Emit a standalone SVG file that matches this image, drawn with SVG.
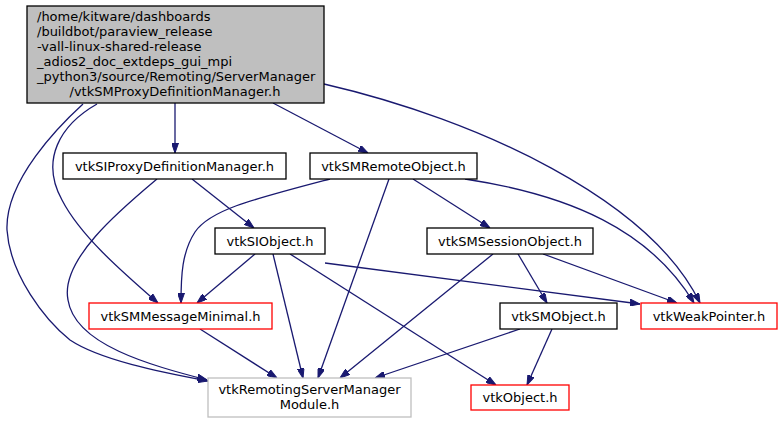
<svg xmlns="http://www.w3.org/2000/svg" width="782" height="424" viewBox="0 0 782 424">
<style>
text{font-family:"DejaVu Sans",sans-serif;font-size:13px;fill:#000;text-anchor:middle}
.l{text-anchor:start}
.n{fill:#fff;stroke:#000;stroke-width:1.3}
.r{fill:#fff;stroke:#ff0000;stroke-width:1.3}
.g{fill:#fff;stroke:#bfbfbf;stroke-width:1.3}
.e path{fill:none;stroke:#191970;stroke-width:1.3;marker-end:url(#a)}
</style>
<defs>
<marker id="a" markerUnits="userSpaceOnUse" markerWidth="10" markerHeight="7" refX="10" refY="3.5" orient="auto" viewBox="0 0 10 7">
<path d="M0,0 L10,3.5 L0,7 Z" fill="#191970" stroke="#191970" stroke-width="1"/>
</marker>
</defs>
<rect width="782" height="424" fill="#fff"/>
<g class="e" id="edges">
<path d="M175,103 L175,153"/>
<path d="M273,103 L368,153"/>
<path d="M324,84 C480,120 650,200 700,303"/>
<path d="M97,104 C60,125 40,160 62,200 C80,235 120,270 158,303"/>
<path d="M83,104 C60,125 5,180 7,230 C10,275 45,320 70,340 C100,360 160,372 208,381"/>
<path d="M157,179 C120,210 60,260 68,300 C75,345 150,365 207,380"/>
<path d="M192,179 L254,228"/>
<path d="M330,179 C250,200 210,210 195,232 C182,252 181,275 181,303"/>
<path d="M389,179 L318,378"/>
<path d="M413,179 L490,228"/>
<path d="M465,179 C570,195 650,230 694,303"/>
<path d="M255,254 L197,303"/>
<path d="M273,254 L303,378"/>
<path d="M290,254 L496,385"/>
<path d="M325,263 L640,304"/>
<path d="M493,254 L340,378"/>
<path d="M518,254 L547,303"/>
<path d="M543,254 L677,303"/>
<path d="M200,329 L277,378"/>
<path d="M520,329 L375,378"/>
<path d="M552,329 L527,385"/>
</g>
<g id="root">
<rect x="27" y="6" width="297" height="97" fill="#bfbfbf" stroke="#000" stroke-width="1.3"/>
<text class="l" x="37" y="21">/home/kitware/dashboards</text>
<text class="l" x="37" y="36">/buildbot/paraview_release</text>
<text class="l" x="37" y="51">-vall-linux-shared-release</text>
<text class="l" x="37" y="66">_adios2_doc_extdeps_gui_mpi</text>
<text class="l" x="37" y="81">_python3/source/Remoting/ServerManager</text>
<text x="175" y="96">/vtkSMProxyDefinitionManager.h</text>
</g>
<g id="n_siproxydef"><rect class="n" x="63" y="153" width="223" height="26"/><text x="174.5" y="170.5">vtkSIProxyDefinitionManager.h</text></g>
<g id="n_smremote"><rect class="n" x="310" y="153" width="167" height="26"/><text x="393.5" y="170.5">vtkSMRemoteObject.h</text></g>
<g id="n_siobject"><rect class="n" x="215" y="228" width="110" height="26"/><text x="270" y="245.5">vtkSIObject.h</text></g>
<g id="n_smsession"><rect class="n" x="427" y="228" width="166" height="26"/><text x="510" y="245.5">vtkSMSessionObject.h</text></g>
<g id="n_msgmin"><rect class="r" x="89" y="303" width="183" height="26"/><text x="180.5" y="320.5">vtkSMMessageMinimal.h</text></g>
<g id="n_module"><rect class="g" x="208" y="378" width="203" height="39"/><text x="309.5" y="393.5">vtkRemotingServerManager</text><text x="309.5" y="408.5">Module.h</text></g>
<g id="n_smobject"><rect class="n" x="500" y="303" width="117" height="26"/><text x="558.5" y="320.5">vtkSMObject.h</text></g>
<g id="n_weak"><rect class="r" x="641" y="303" width="136" height="26"/><text x="709" y="320.5">vtkWeakPointer.h</text></g>
<g id="n_vtkobject"><rect class="r" x="471" y="385" width="98" height="25"/><text x="520" y="402">vtkObject.h</text></g>
</svg>
